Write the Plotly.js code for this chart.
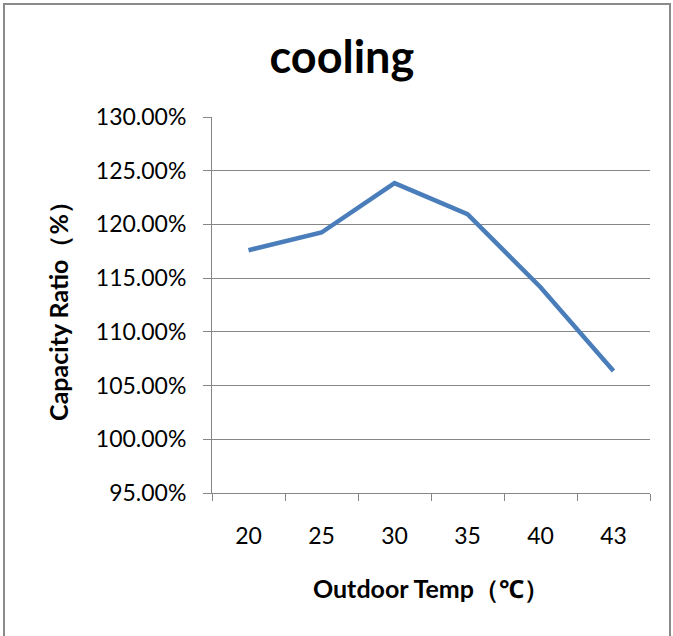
<!DOCTYPE html>
<html>
<head>
<meta charset="utf-8">
<script src="https://cdn.plot.ly/plotly-3.0.1.min.js"></script>
<style>
html,body{margin:0;padding:0;background:#fff;}
#chart{width:673px;height:636px;position:absolute;left:0;top:0;}
#frame{position:absolute;left:3px;top:3px;width:664px;height:640px;border:2px solid #8a8a8a;pointer-events:none;}
</style>
</head>
<body>
<div id="chart"></div>
<div id="frame"></div>
<script>
const categories = ["20", "25", "30", "35", "40", "43"];
const capacityRatio = [117.6, 119.25, 123.85, 120.95, 114.15, 106.35];
const yTickValues = [95, 100, 105, 110, 115, 120, 125, 130];
const yTickLabels = ["95.00%", "100.00%", "105.00%", "110.00%", "115.00%", "120.00%", "125.00%", "130.00%"];
const chartTitle = "cooling";
const xTitle = "Outdoor Temp（℃）";
const yTitle = "Capacity Ratio（%）";

const FONT = "Lato, 'Open Sans', 'Noto Sans', sans-serif";
const GRID = "#868686";

const trace = {
  type: "scatter",
  mode: "lines",
  x: categories,
  y: capacityRatio,
  line: {color: "#4a7ebb", width: 4.5},
  hoverinfo: "x+y"
};

const layout = {
  width: 673,
  height: 636,
  margin: {l: 212, r: 23, t: 117, b: 143},
  paper_bgcolor: "#ffffff",
  plot_bgcolor: "#ffffff",
  showlegend: false,
  font: {family: FONT, color: "#000000"},
  title: {
    text: "<b>" + chartTitle + "</b>",
    font: {family: FONT, size: 45, color: "#000000"},
    x: 0.508, xref: "container", xanchor: "center",
    y: 0.91, yref: "container", yanchor: "middle"
  },
  xaxis: {
    type: "category",
    range: [-0.5, categories.length - 0.5],
    tickson: "boundaries",
    ticks: "outside",
    ticklen: 7,
    tickcolor: GRID,
    tickwidth: 1,
    showline: true,
    linecolor: GRID,
    linewidth: 1,
    showgrid: false,
    zeroline: false,
    tickfont: {family: FONT, size: 23, color: "#000000"},
    ticklabelstandoff: 22,
    title: {text: "<b>" + xTitle + "</b>", font: {family: FONT, size: 25, color: "#000000"}, standoff: 32}
  },
  yaxis: {
    range: [95, 130],
    tickvals: yTickValues,
    ticktext: yTickLabels,
    ticks: "outside",
    ticklen: 8,
    tickcolor: GRID,
    tickwidth: 1,
    showline: true,
    linecolor: GRID,
    linewidth: 1,
    showgrid: true,
    gridcolor: GRID,
    gridwidth: 1,
    zeroline: false,
    tickfont: {family: FONT, size: 23, color: "#000000"},
    ticklabelstandoff: 12,
    title: {text: "<b>" + yTitle + "</b>", font: {family: FONT, size: 25, color: "#000000"}, standoff: 20}
  }
};

Plotly.newPlot("chart", [trace], layout, {displayModeBar: false, staticPlot: true});
</script>
</body>
</html>
